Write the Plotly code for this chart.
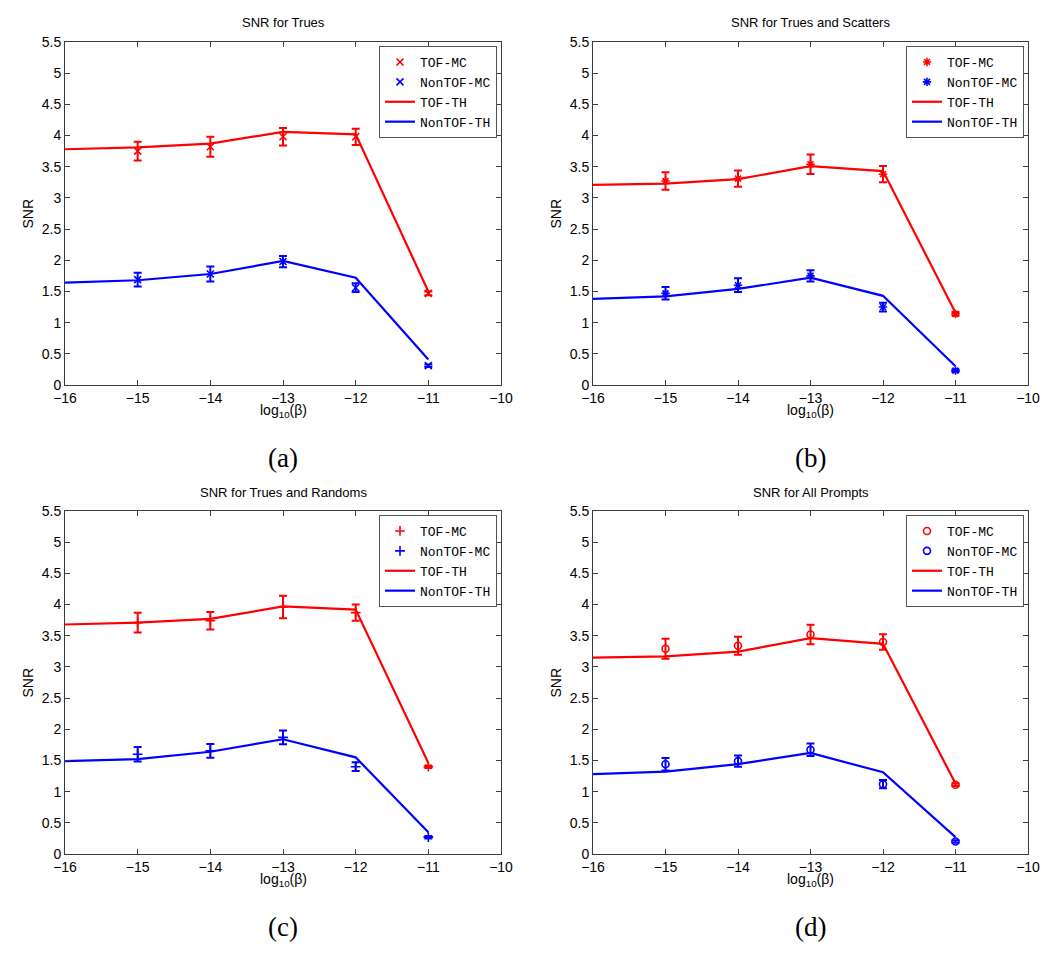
import plotly.graph_objects as go

# ---------------- data ----------------
x_th = [-16, -15, -14, -13, -12, -11]
x_mc = [-15, -14, -13, -12, -11]

titles = ["SNR for Trues", "SNR for Trues and Scatters",
          "SNR for Trues and Randoms", "SNR for All Prompts"]
captions = ["(a)", "(b)", "(c)", "(d)"]
symbols = ["x-thin-open", "asterisk-open", "cross-thin-open", "circle-open"]

# (a) Trues
a_tof_th = [3.78, 3.81, 3.87, 4.06, 4.02, 1.50]
a_non_th = [1.64, 1.68, 1.78, 1.99, 1.72, 0.41]
a_tof_mc = [3.75, 3.82, 3.98, 3.98, 1.47]
a_tof_err = [0.15, 0.16, 0.14, 0.13, 0.03]
a_non_mc = [1.69, 1.78, 1.98, 1.56, 0.31]
a_non_err = [0.11, 0.12, 0.09, 0.07, 0.02]

# (b) Trues and Scatters
b_tof_th = [3.21, 3.23, 3.30, 3.51, 3.43, 1.16]
b_non_th = [1.38, 1.42, 1.54, 1.72, 1.43, 0.30]
b_tof_mc = [3.27, 3.31, 3.54, 3.38, 1.14]
b_tof_err = [0.14, 0.13, 0.155, 0.13, 0.03]
b_non_mc = [1.47, 1.60, 1.75, 1.25, 0.23]
b_non_err = [0.10, 0.11, 0.09, 0.07, 0.02]

# (c) Trues and Randoms
c_tof_th = [3.68, 3.71, 3.77, 3.97, 3.92, 1.46]
c_non_th = [1.49, 1.52, 1.64, 1.84, 1.55, 0.35]
c_tof_mc = [3.71, 3.74, 3.96, 3.87, 1.40]
c_tof_err = [0.16, 0.14, 0.18, 0.13, 0.02]
c_non_mc = [1.60, 1.655, 1.87, 1.40, 0.27]
c_non_err = [0.115, 0.11, 0.11, 0.07, 0.02]

# (d) All Prompts
d_tof_th = [3.15, 3.17, 3.245, 3.46, 3.37, 1.13]
d_non_th = [1.28, 1.32, 1.44, 1.62, 1.31, 0.27]
d_tof_mc = [3.29, 3.34, 3.52, 3.40, 1.11]
d_tof_err = [0.16, 0.145, 0.155, 0.125, 0.02]
d_non_mc = [1.44, 1.49, 1.67, 1.12, 0.20]
d_non_err = [0.10, 0.09, 0.10, 0.065, 0.02]

panels = [
    (a_tof_th, a_non_th, a_tof_mc, a_tof_err, a_non_mc, a_non_err),
    (b_tof_th, b_non_th, b_tof_mc, b_tof_err, b_non_mc, b_non_err),
    (c_tof_th, c_non_th, c_tof_mc, c_tof_err, c_non_mc, c_non_err),
    (d_tof_th, d_non_th, d_tof_mc, d_tof_err, d_non_mc, d_non_err),
]

x_ticks = [-16, -15, -14, -13, -12, -11, -10]
y_ticks = [0, 0.5, 1, 1.5, 2, 2.5, 3, 3.5, 4, 4.5, 5, 5.5]
y_tick_text = ["0", "0.5", "1", "1.5", "2", "2.5", "3", "3.5", "4", "4.5", "5", "5.5"]

# ---------------- layout geometry (pixels) ----------------
OFF = 8                      # browser default page margin
W, H = 1050 - OFF, 956 - OFF
RED = "#ff0000"
BLUE = "#0000ff"
AXC = "#3c3c3c"

# plot areas in window pixels: (left, right, top, bottom)
boxes = [(65, 501, 42, 385), (593, 1028, 42, 385),
         (65, 501, 511, 854), (593, 1028, 511, 854)]


def px_x(p):
    return (p - OFF) / W


def px_y(p):
    return 1 - (p - OFF) / H


fig = go.Figure()
layout = dict(
    width=W, height=H,
    margin=dict(l=0, r=0, t=0, b=0, autoexpand=False),
    paper_bgcolor="white", plot_bgcolor="white",
    font=dict(family="Liberation Sans, Arial", size=14, color="black"),
    annotations=[],
    showlegend=True,
)

for i, (tof_th, non_th, tof_mc, tof_err, non_mc, non_err) in enumerate(panels):
    n = i + 1
    xa = "x" if n == 1 else f"x{n}"
    ya = "y" if n == 1 else f"y{n}"
    leg = "legend" if n == 1 else f"legend{n}"
    sym = symbols[i]

    fig.add_trace(go.Scatter(
        x=x_mc, y=tof_mc, mode="markers", name="TOF-MC",
        xaxis=xa, yaxis=ya, legend=leg,
        marker=dict(symbol=sym, size=7, color=RED, line=dict(color=RED, width=1.6)),
        error_y=dict(type="data", array=tof_err, color=RED, thickness=2, width=4),
    ))
    fig.add_trace(go.Scatter(
        x=x_mc, y=non_mc, mode="markers", name="NonTOF-MC",
        xaxis=xa, yaxis=ya, legend=leg,
        marker=dict(symbol=sym, size=7, color=BLUE, line=dict(color=BLUE, width=1.6)),
        error_y=dict(type="data", array=non_err, color=BLUE, thickness=2, width=4),
    ))
    fig.add_trace(go.Scatter(
        x=x_th, y=tof_th, mode="lines", name="TOF-TH",
        xaxis=xa, yaxis=ya, legend=leg,
        line=dict(color=RED, width=2.2),
    ))
    fig.add_trace(go.Scatter(
        x=x_th, y=non_th, mode="lines", name="NonTOF-TH",
        xaxis=xa, yaxis=ya, legend=leg,
        line=dict(color=BLUE, width=2.2),
    ))

    l, r, t, b = boxes[i]
    xkey = "xaxis" if n == 1 else f"xaxis{n}"
    ykey = "yaxis" if n == 1 else f"yaxis{n}"
    layout[xkey] = dict(
        domain=[px_x(l), px_x(r)], anchor=ya, range=[-16, -10],
        tickvals=x_ticks, ticktext=[f"\u2212{abs(v)}" for v in x_ticks],
        ticks="inside", ticklen=5, tickcolor=AXC, showline=True, linecolor=AXC,
        linewidth=1, mirror="ticks", showgrid=False, zeroline=False,
        tickfont=dict(size=14), fixedrange=True, automargin=False,
    )
    layout[ykey] = dict(
        domain=[px_y(b), px_y(t)], anchor=xa, range=[0, 5.5],
        tickvals=y_ticks, ticktext=y_tick_text,
        ticks="inside", ticklen=5, tickcolor=AXC, showline=True, linecolor=AXC,
        linewidth=1, mirror="ticks", showgrid=False, zeroline=False,
        tickfont=dict(size=14), fixedrange=True, automargin=False,
    )
    layout[leg] = dict(
        x=px_x(r - 4), xanchor="right", y=px_y(t + 4), yanchor="top",
        bgcolor="white", bordercolor="#555", borderwidth=1,
        font=dict(family="Liberation Mono, Courier New", size=13, color="black"),
        tracegroupgap=0, itemwidth=30,
    )
    cx = (l + r) / 2
    layout["annotations"] += [
        dict(text=titles[i], x=px_x(cx), y=px_y(t - 19), xref="paper", yref="paper",
             showarrow=False, font=dict(size=13), xanchor="center", yanchor="middle"),
        dict(text="SNR", x=px_x(l - 38), y=px_y((t + b) / 2), xref="paper", yref="paper",
             showarrow=False, textangle=-90, font=dict(size=14),
             xanchor="center", yanchor="middle"),
        dict(text="log<sub>10</sub>(\u03b2)", x=px_x(cx), y=px_y(b + 26), xref="paper",
             yref="paper", showarrow=False, font=dict(size=14),
             xanchor="center", yanchor="middle"),
        dict(text=captions[i], x=px_x(cx), y=px_y(b + 73), xref="paper", yref="paper",
             showarrow=False, font=dict(family="Liberation Serif, Times New Roman", size=27),
             xanchor="center", yanchor="middle"),
    ]

fig.update_layout(**layout)
fig.write_html("out.html")
